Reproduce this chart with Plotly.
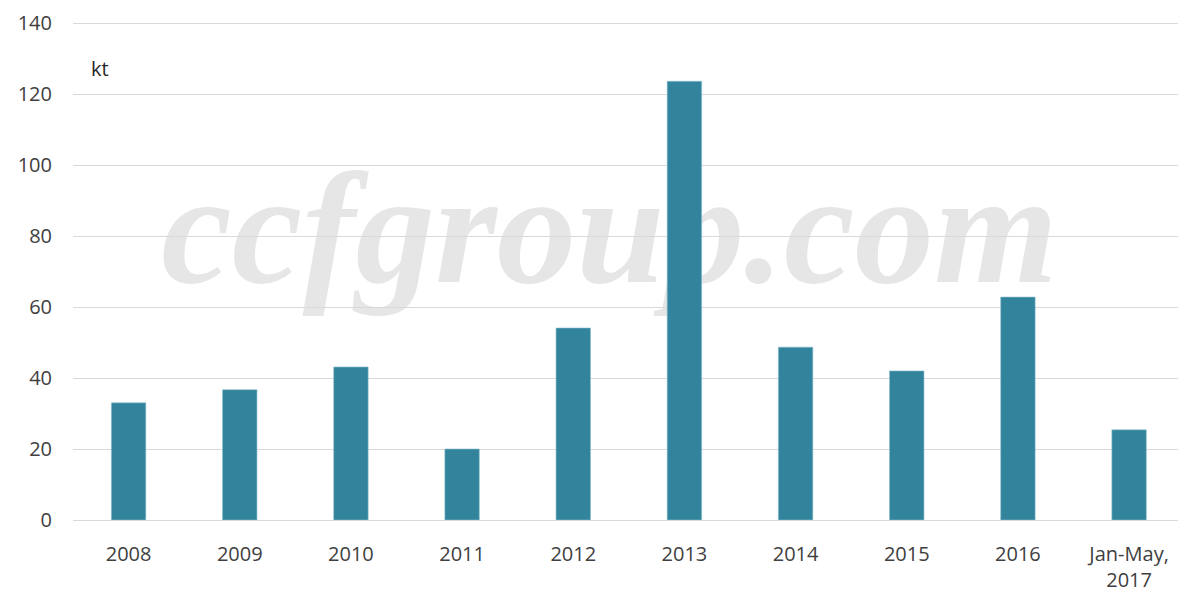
import plotly.graph_objects as go

categories = ["2008", "2009", "2010", "2011", "2012", "2013", "2014", "2015", "2016", "Jan-May,<br>2017"]
values = [33.0, 36.7, 43.1, 20.0, 54.1, 123.6, 48.7, 42.0, 62.8, 25.4]
y_ticks = [0, 20, 40, 60, 80, 100, 120, 140]

font_family = "Open Sans, Noto Sans, sans-serif"
text_color = "#404040"

fig = go.Figure()
fig.add_trace(go.Bar(
    x=list(range(len(categories))),
    y=values,
    marker=dict(color="#31849b", line=dict(color="#8fc0cf", width=0.6)),
    width=0.31,
    hoverinfo="skip",
))

fig.add_shape(
    type="rect", xref="paper", yref="paper",
    x0=(167 - 73) / 1105, x1=(1052 - 73) / 1105, y0=0.42, y1=0.82,
    line=dict(width=0), fillcolor="rgba(0,0,0,0)",
    layer="below",
    label=dict(text="<i><b>ccfgroup.com</b></i>",
               font=dict(family="Liberation Serif, DejaVu Serif, serif", size=159, color="#e6e6e6"),
               textposition="middle center"),
)

fig.update_layout(
    width=1178, height=595,
    margin=dict(l=73, r=0, t=22, b=75),
    paper_bgcolor="white", plot_bgcolor="white",
    showlegend=False,
    font=dict(family=font_family, size=20, color=text_color),
    xaxis=dict(
        range=[-0.5, 9.44],
        tickmode="array", tickvals=list(range(len(categories))), ticktext=categories,
        showgrid=False, zeroline=False, showline=False, ticks="",
        tickfont=dict(size=20, color=text_color),
        ticklabelstandoff=20,
    ),
    yaxis=dict(
        range=[0, 140.3],
        tickmode="array", tickvals=y_ticks,
        showgrid=True, gridcolor="#d9d9d9", gridwidth=1,
        zeroline=True, zerolinecolor="#d9d9d9", zerolinewidth=1,
        showline=False, ticks="",
        tickfont=dict(size=20, color=text_color),
        ticklabelstandoff=20,
    ),
    annotations=[dict(
        text="kt", xref="paper", yref="paper", x=(89 - 73) / 1105, y=(520 - 68) / 498,
        xanchor="left", yanchor="middle", showarrow=False,
        font=dict(size=20, color="#262626", family=font_family),
    )],
)

fig.write_html("out.html", config={"displayModeBar": False},
               post_script="document.body.style.margin='0';document.body.style.overflow='hidden';")
